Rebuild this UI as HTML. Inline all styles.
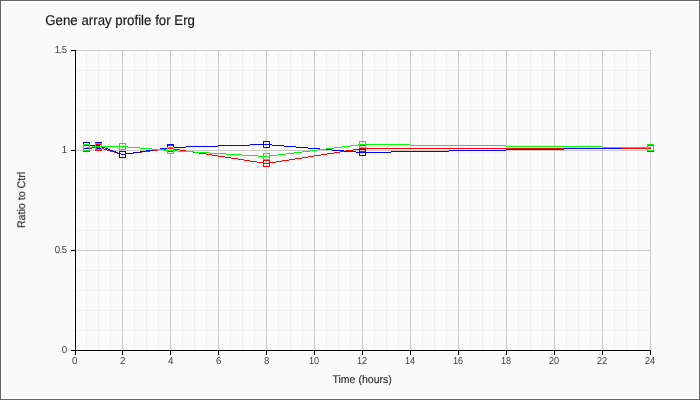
<!DOCTYPE html>
<html><head><meta charset="utf-8"><title>Gene array profile for Erg</title>
<style>
html,body{margin:0;padding:0;background:#FAFAFA;overflow:hidden}
svg{display:block}
text{font-family:"Liberation Sans",Arial,sans-serif;fill:#262626;text-rendering:geometricPrecision}
</style></head><body>
<svg width="700" height="400" viewBox="0 0 700 400">
<g shape-rendering="crispEdges">
<rect x="0" y="0" width="700" height="400" fill="#666666"/>
<rect x="1" y="1" width="698" height="398" fill="#FFFFFF"/>
<rect x="2" y="2" width="696" height="396" fill="#FAFAFA"/>
<rect x="86" y="50" width="1" height="300" fill="#F0F0F0"/>
<rect x="98" y="50" width="1" height="300" fill="#F0F0F0"/>
<rect x="110" y="50" width="1" height="300" fill="#F0F0F0"/>
<rect x="134" y="50" width="1" height="300" fill="#F0F0F0"/>
<rect x="146" y="50" width="1" height="300" fill="#F0F0F0"/>
<rect x="158" y="50" width="1" height="300" fill="#F0F0F0"/>
<rect x="182" y="50" width="1" height="300" fill="#F0F0F0"/>
<rect x="194" y="50" width="1" height="300" fill="#F0F0F0"/>
<rect x="206" y="50" width="1" height="300" fill="#F0F0F0"/>
<rect x="230" y="50" width="1" height="300" fill="#F0F0F0"/>
<rect x="242" y="50" width="1" height="300" fill="#F0F0F0"/>
<rect x="254" y="50" width="1" height="300" fill="#F0F0F0"/>
<rect x="278" y="50" width="1" height="300" fill="#F0F0F0"/>
<rect x="290" y="50" width="1" height="300" fill="#F0F0F0"/>
<rect x="302" y="50" width="1" height="300" fill="#F0F0F0"/>
<rect x="326" y="50" width="1" height="300" fill="#F0F0F0"/>
<rect x="338" y="50" width="1" height="300" fill="#F0F0F0"/>
<rect x="350" y="50" width="1" height="300" fill="#F0F0F0"/>
<rect x="374" y="50" width="1" height="300" fill="#F0F0F0"/>
<rect x="386" y="50" width="1" height="300" fill="#F0F0F0"/>
<rect x="398" y="50" width="1" height="300" fill="#F0F0F0"/>
<rect x="422" y="50" width="1" height="300" fill="#F0F0F0"/>
<rect x="434" y="50" width="1" height="300" fill="#F0F0F0"/>
<rect x="446" y="50" width="1" height="300" fill="#F0F0F0"/>
<rect x="470" y="50" width="1" height="300" fill="#F0F0F0"/>
<rect x="482" y="50" width="1" height="300" fill="#F0F0F0"/>
<rect x="494" y="50" width="1" height="300" fill="#F0F0F0"/>
<rect x="518" y="50" width="1" height="300" fill="#F0F0F0"/>
<rect x="530" y="50" width="1" height="300" fill="#F0F0F0"/>
<rect x="542" y="50" width="1" height="300" fill="#F0F0F0"/>
<rect x="566" y="50" width="1" height="300" fill="#F0F0F0"/>
<rect x="578" y="50" width="1" height="300" fill="#F0F0F0"/>
<rect x="590" y="50" width="1" height="300" fill="#F0F0F0"/>
<rect x="614" y="50" width="1" height="300" fill="#F0F0F0"/>
<rect x="626" y="50" width="1" height="300" fill="#F0F0F0"/>
<rect x="638" y="50" width="1" height="300" fill="#F0F0F0"/>
<rect x="76" y="330" width="575" height="1" fill="#F0F0F0"/>
<rect x="76" y="310" width="575" height="1" fill="#F0F0F0"/>
<rect x="76" y="290" width="575" height="1" fill="#F0F0F0"/>
<rect x="76" y="270" width="575" height="1" fill="#F0F0F0"/>
<rect x="76" y="230" width="575" height="1" fill="#F0F0F0"/>
<rect x="76" y="210" width="575" height="1" fill="#F0F0F0"/>
<rect x="76" y="190" width="575" height="1" fill="#F0F0F0"/>
<rect x="76" y="170" width="575" height="1" fill="#F0F0F0"/>
<rect x="76" y="130" width="575" height="1" fill="#F0F0F0"/>
<rect x="76" y="110" width="575" height="1" fill="#F0F0F0"/>
<rect x="76" y="90" width="575" height="1" fill="#F0F0F0"/>
<rect x="76" y="70" width="575" height="1" fill="#F0F0F0"/>
<rect x="122" y="50" width="1" height="300" fill="#C8C8C8"/>
<rect x="170" y="50" width="1" height="300" fill="#C8C8C8"/>
<rect x="218" y="50" width="1" height="300" fill="#C8C8C8"/>
<rect x="266" y="50" width="1" height="300" fill="#C8C8C8"/>
<rect x="314" y="50" width="1" height="300" fill="#C8C8C8"/>
<rect x="362" y="50" width="1" height="300" fill="#C8C8C8"/>
<rect x="410" y="50" width="1" height="300" fill="#C8C8C8"/>
<rect x="458" y="50" width="1" height="300" fill="#C8C8C8"/>
<rect x="506" y="50" width="1" height="300" fill="#C8C8C8"/>
<rect x="554" y="50" width="1" height="300" fill="#C8C8C8"/>
<rect x="602" y="50" width="1" height="300" fill="#C8C8C8"/>
<rect x="650" y="50" width="1" height="300" fill="#C8C8C8"/>
<rect x="76" y="250" width="575" height="1" fill="#C8C8C8"/>
<rect x="76" y="150" width="575" height="1" fill="#C8C8C8"/>
<rect x="76" y="50" width="575" height="1" fill="#C8C8C8"/>
<rect x="75" y="50" width="1" height="305" fill="#000"/>
<rect x="71" y="350" width="580" height="1" fill="#000"/>
<rect x="71" y="250" width="4" height="1" fill="#000"/>
<rect x="71" y="150" width="4" height="1" fill="#000"/>
<rect x="71" y="50" width="4" height="1" fill="#000"/>
<rect x="122" y="351" width="1" height="4" fill="#000"/>
<rect x="170" y="351" width="1" height="4" fill="#000"/>
<rect x="218" y="351" width="1" height="4" fill="#000"/>
<rect x="266" y="351" width="1" height="4" fill="#000"/>
<rect x="314" y="351" width="1" height="4" fill="#000"/>
<rect x="362" y="351" width="1" height="4" fill="#000"/>
<rect x="410" y="351" width="1" height="4" fill="#000"/>
<rect x="458" y="351" width="1" height="4" fill="#000"/>
<rect x="506" y="351" width="1" height="4" fill="#000"/>
<rect x="554" y="351" width="1" height="4" fill="#000"/>
<rect x="602" y="351" width="1" height="4" fill="#000"/>
<rect x="650" y="351" width="1" height="4" fill="#000"/>
<rect x="86" y="148" width="6" height="1" fill="#FF0000"/>
<rect x="92" y="147" width="7" height="1" fill="#FF0000"/>
<rect x="98" y="147" width="2" height="1" fill="#FF0000"/>
<rect x="100" y="148" width="4" height="1" fill="#FF0000"/>
<rect x="104" y="149" width="3" height="1" fill="#FF0000"/>
<rect x="107" y="150" width="3" height="1" fill="#FF0000"/>
<rect x="110" y="151" width="4" height="1" fill="#FF0000"/>
<rect x="114" y="152" width="3" height="1" fill="#FF0000"/>
<rect x="117" y="153" width="4" height="1" fill="#FF0000"/>
<rect x="121" y="154" width="2" height="1" fill="#FF0000"/>
<rect x="122" y="154" width="4" height="1" fill="#FF0000"/>
<rect x="126" y="153" width="8" height="1" fill="#FF0000"/>
<rect x="134" y="152" width="8" height="1" fill="#FF0000"/>
<rect x="142" y="151" width="8" height="1" fill="#FF0000"/>
<rect x="150" y="150" width="8" height="1" fill="#FF0000"/>
<rect x="158" y="149" width="8" height="1" fill="#FF0000"/>
<rect x="166" y="148" width="5" height="1" fill="#FF0000"/>
<rect x="170" y="148" width="4" height="1" fill="#FF0000"/>
<rect x="174" y="149" width="6" height="1" fill="#FF0000"/>
<rect x="180" y="150" width="6" height="1" fill="#FF0000"/>
<rect x="186" y="151" width="7" height="1" fill="#FF0000"/>
<rect x="193" y="152" width="6" height="1" fill="#FF0000"/>
<rect x="199" y="153" width="7" height="1" fill="#FF0000"/>
<rect x="206" y="154" width="6" height="1" fill="#FF0000"/>
<rect x="212" y="155" width="6" height="1" fill="#FF0000"/>
<rect x="218" y="156" width="7" height="1" fill="#FF0000"/>
<rect x="225" y="157" width="6" height="1" fill="#FF0000"/>
<rect x="231" y="158" width="7" height="1" fill="#FF0000"/>
<rect x="238" y="159" width="6" height="1" fill="#FF0000"/>
<rect x="244" y="160" width="6" height="1" fill="#FF0000"/>
<rect x="250" y="161" width="7" height="1" fill="#FF0000"/>
<rect x="257" y="162" width="6" height="1" fill="#FF0000"/>
<rect x="263" y="163" width="4" height="1" fill="#FF0000"/>
<rect x="266" y="163" width="4" height="1" fill="#FF0000"/>
<rect x="270" y="162" width="6" height="1" fill="#FF0000"/>
<rect x="276" y="161" width="6" height="1" fill="#FF0000"/>
<rect x="282" y="160" width="7" height="1" fill="#FF0000"/>
<rect x="289" y="159" width="6" height="1" fill="#FF0000"/>
<rect x="295" y="158" width="7" height="1" fill="#FF0000"/>
<rect x="302" y="157" width="6" height="1" fill="#FF0000"/>
<rect x="308" y="156" width="6" height="1" fill="#FF0000"/>
<rect x="314" y="155" width="7" height="1" fill="#FF0000"/>
<rect x="321" y="154" width="6" height="1" fill="#FF0000"/>
<rect x="327" y="153" width="7" height="1" fill="#FF0000"/>
<rect x="334" y="152" width="6" height="1" fill="#FF0000"/>
<rect x="340" y="151" width="6" height="1" fill="#FF0000"/>
<rect x="346" y="150" width="7" height="1" fill="#FF0000"/>
<rect x="353" y="149" width="6" height="1" fill="#FF0000"/>
<rect x="359" y="148" width="4" height="1" fill="#FF0000"/>
<rect x="362" y="148" width="289" height="1" fill="#FF0000"/>
<rect x="83" y="145" width="7" height="1" fill="#FF0000"/>
<rect x="83" y="151" width="7" height="1" fill="#FF0000"/>
<rect x="83" y="146" width="1" height="5" fill="#FF0000"/>
<rect x="89" y="146" width="1" height="5" fill="#FF0000"/>
<rect x="95" y="144" width="7" height="1" fill="#FF0000"/>
<rect x="95" y="150" width="7" height="1" fill="#FF0000"/>
<rect x="95" y="145" width="1" height="5" fill="#FF0000"/>
<rect x="101" y="145" width="1" height="5" fill="#FF0000"/>
<rect x="119" y="151" width="7" height="1" fill="#FF0000"/>
<rect x="119" y="157" width="7" height="1" fill="#FF0000"/>
<rect x="119" y="152" width="1" height="5" fill="#FF0000"/>
<rect x="125" y="152" width="1" height="5" fill="#FF0000"/>
<rect x="167" y="145" width="7" height="1" fill="#FF0000"/>
<rect x="167" y="151" width="7" height="1" fill="#FF0000"/>
<rect x="167" y="146" width="1" height="5" fill="#FF0000"/>
<rect x="173" y="146" width="1" height="5" fill="#FF0000"/>
<rect x="263" y="160" width="7" height="1" fill="#FF0000"/>
<rect x="263" y="166" width="7" height="1" fill="#FF0000"/>
<rect x="263" y="161" width="1" height="5" fill="#FF0000"/>
<rect x="269" y="161" width="1" height="5" fill="#FF0000"/>
<rect x="359" y="145" width="7" height="1" fill="#FF0000"/>
<rect x="359" y="151" width="7" height="1" fill="#FF0000"/>
<rect x="359" y="146" width="1" height="5" fill="#FF0000"/>
<rect x="365" y="146" width="1" height="5" fill="#FF0000"/>
<rect x="647" y="145" width="7" height="1" fill="#FF0000"/>
<rect x="647" y="151" width="7" height="1" fill="#FF0000"/>
<rect x="647" y="146" width="1" height="5" fill="#FF0000"/>
<rect x="653" y="146" width="1" height="5" fill="#FF0000"/>
<rect x="86" y="145" width="13" height="1" fill="#0000FF"/>
<rect x="98" y="145" width="2" height="1" fill="#0000FF"/>
<rect x="100" y="146" width="2" height="1" fill="#0000FF"/>
<rect x="102" y="147" width="3" height="1" fill="#0000FF"/>
<rect x="105" y="148" width="3" height="1" fill="#0000FF"/>
<rect x="108" y="149" width="2" height="1" fill="#0000FF"/>
<rect x="110" y="150" width="3" height="1" fill="#0000FF"/>
<rect x="113" y="151" width="3" height="1" fill="#0000FF"/>
<rect x="116" y="152" width="2" height="1" fill="#0000FF"/>
<rect x="118" y="153" width="3" height="1" fill="#0000FF"/>
<rect x="121" y="154" width="2" height="1" fill="#0000FF"/>
<rect x="122" y="154" width="4" height="1" fill="#0000FF"/>
<rect x="126" y="153" width="7" height="1" fill="#0000FF"/>
<rect x="133" y="152" width="7" height="1" fill="#0000FF"/>
<rect x="140" y="151" width="6" height="1" fill="#0000FF"/>
<rect x="146" y="150" width="7" height="1" fill="#0000FF"/>
<rect x="153" y="149" width="7" height="1" fill="#0000FF"/>
<rect x="160" y="148" width="7" height="1" fill="#0000FF"/>
<rect x="167" y="147" width="4" height="1" fill="#0000FF"/>
<rect x="170" y="147" width="16" height="1" fill="#0000FF"/>
<rect x="186" y="146" width="32" height="1" fill="#0000FF"/>
<rect x="218" y="145" width="32" height="1" fill="#0000FF"/>
<rect x="250" y="144" width="17" height="1" fill="#0000FF"/>
<rect x="266" y="144" width="6" height="1" fill="#0000FF"/>
<rect x="272" y="145" width="12" height="1" fill="#0000FF"/>
<rect x="284" y="146" width="12" height="1" fill="#0000FF"/>
<rect x="296" y="147" width="12" height="1" fill="#0000FF"/>
<rect x="308" y="148" width="12" height="1" fill="#0000FF"/>
<rect x="320" y="149" width="12" height="1" fill="#0000FF"/>
<rect x="332" y="150" width="12" height="1" fill="#0000FF"/>
<rect x="344" y="151" width="12" height="1" fill="#0000FF"/>
<rect x="356" y="152" width="7" height="1" fill="#0000FF"/>
<rect x="362" y="152" width="29" height="1" fill="#0000FF"/>
<rect x="391" y="151" width="58" height="1" fill="#0000FF"/>
<rect x="449" y="150" width="57" height="1" fill="#0000FF"/>
<rect x="506" y="149" width="58" height="1" fill="#0000FF"/>
<rect x="564" y="148" width="58" height="1" fill="#0000FF"/>
<rect x="622" y="147" width="29" height="1" fill="#0000FF"/>
<rect x="83" y="142" width="7" height="1" fill="#0000FF"/>
<rect x="83" y="148" width="7" height="1" fill="#0000FF"/>
<rect x="83" y="143" width="1" height="5" fill="#0000FF"/>
<rect x="89" y="143" width="1" height="5" fill="#0000FF"/>
<rect x="95" y="142" width="7" height="1" fill="#0000FF"/>
<rect x="95" y="148" width="7" height="1" fill="#0000FF"/>
<rect x="95" y="143" width="1" height="5" fill="#0000FF"/>
<rect x="101" y="143" width="1" height="5" fill="#0000FF"/>
<rect x="119" y="151" width="7" height="1" fill="#0000FF"/>
<rect x="119" y="157" width="7" height="1" fill="#0000FF"/>
<rect x="119" y="152" width="1" height="5" fill="#0000FF"/>
<rect x="125" y="152" width="1" height="5" fill="#0000FF"/>
<rect x="167" y="144" width="7" height="1" fill="#0000FF"/>
<rect x="167" y="150" width="7" height="1" fill="#0000FF"/>
<rect x="167" y="145" width="1" height="5" fill="#0000FF"/>
<rect x="173" y="145" width="1" height="5" fill="#0000FF"/>
<rect x="263" y="141" width="7" height="1" fill="#0000FF"/>
<rect x="263" y="147" width="7" height="1" fill="#0000FF"/>
<rect x="263" y="142" width="1" height="5" fill="#0000FF"/>
<rect x="269" y="142" width="1" height="5" fill="#0000FF"/>
<rect x="359" y="149" width="7" height="1" fill="#0000FF"/>
<rect x="359" y="155" width="7" height="1" fill="#0000FF"/>
<rect x="359" y="150" width="1" height="5" fill="#0000FF"/>
<rect x="365" y="150" width="1" height="5" fill="#0000FF"/>
<rect x="647" y="144" width="7" height="1" fill="#0000FF"/>
<rect x="647" y="150" width="7" height="1" fill="#0000FF"/>
<rect x="647" y="145" width="1" height="5" fill="#0000FF"/>
<rect x="653" y="145" width="1" height="5" fill="#0000FF"/>
<rect x="86" y="147" width="6" height="1" fill="#00FF00"/>
<rect x="92" y="146" width="7" height="1" fill="#00FF00"/>
<rect x="98" y="146" width="25" height="1" fill="#00FF00"/>
<rect x="122" y="146" width="6" height="1" fill="#00FF00"/>
<rect x="128" y="147" width="12" height="1" fill="#00FF00"/>
<rect x="140" y="148" width="12" height="1" fill="#00FF00"/>
<rect x="152" y="149" width="12" height="1" fill="#00FF00"/>
<rect x="164" y="150" width="7" height="1" fill="#00FF00"/>
<rect x="170" y="150" width="8" height="1" fill="#00FF00"/>
<rect x="178" y="151" width="16" height="1" fill="#00FF00"/>
<rect x="194" y="152" width="16" height="1" fill="#00FF00"/>
<rect x="210" y="153" width="16" height="1" fill="#00FF00"/>
<rect x="226" y="154" width="16" height="1" fill="#00FF00"/>
<rect x="242" y="155" width="16" height="1" fill="#00FF00"/>
<rect x="258" y="156" width="9" height="1" fill="#00FF00"/>
<rect x="266" y="156" width="4" height="1" fill="#00FF00"/>
<rect x="270" y="155" width="8" height="1" fill="#00FF00"/>
<rect x="278" y="154" width="8" height="1" fill="#00FF00"/>
<rect x="286" y="153" width="8" height="1" fill="#00FF00"/>
<rect x="294" y="152" width="8" height="1" fill="#00FF00"/>
<rect x="302" y="151" width="8" height="1" fill="#00FF00"/>
<rect x="310" y="150" width="8" height="1" fill="#00FF00"/>
<rect x="318" y="149" width="8" height="1" fill="#00FF00"/>
<rect x="326" y="148" width="8" height="1" fill="#00FF00"/>
<rect x="334" y="147" width="8" height="1" fill="#00FF00"/>
<rect x="342" y="146" width="8" height="1" fill="#00FF00"/>
<rect x="350" y="145" width="8" height="1" fill="#00FF00"/>
<rect x="358" y="144" width="5" height="1" fill="#00FF00"/>
<rect x="362" y="144" width="48" height="1" fill="#00FF00"/>
<rect x="410" y="145" width="96" height="1" fill="#00FF00"/>
<rect x="506" y="146" width="96" height="1" fill="#00FF00"/>
<rect x="602" y="147" width="49" height="1" fill="#00FF00"/>
<rect x="83" y="144" width="7" height="1" fill="#00FF00"/>
<rect x="83" y="150" width="7" height="1" fill="#00FF00"/>
<rect x="83" y="145" width="1" height="5" fill="#00FF00"/>
<rect x="89" y="145" width="1" height="5" fill="#00FF00"/>
<rect x="95" y="143" width="7" height="1" fill="#00FF00"/>
<rect x="95" y="149" width="7" height="1" fill="#00FF00"/>
<rect x="95" y="144" width="1" height="5" fill="#00FF00"/>
<rect x="101" y="144" width="1" height="5" fill="#00FF00"/>
<rect x="119" y="143" width="7" height="1" fill="#00FF00"/>
<rect x="119" y="149" width="7" height="1" fill="#00FF00"/>
<rect x="119" y="144" width="1" height="5" fill="#00FF00"/>
<rect x="125" y="144" width="1" height="5" fill="#00FF00"/>
<rect x="167" y="147" width="7" height="1" fill="#00FF00"/>
<rect x="167" y="153" width="7" height="1" fill="#00FF00"/>
<rect x="167" y="148" width="1" height="5" fill="#00FF00"/>
<rect x="173" y="148" width="1" height="5" fill="#00FF00"/>
<rect x="263" y="153" width="7" height="1" fill="#00FF00"/>
<rect x="263" y="159" width="7" height="1" fill="#00FF00"/>
<rect x="263" y="154" width="1" height="5" fill="#00FF00"/>
<rect x="269" y="154" width="1" height="5" fill="#00FF00"/>
<rect x="359" y="141" width="7" height="1" fill="#00FF00"/>
<rect x="359" y="147" width="7" height="1" fill="#00FF00"/>
<rect x="359" y="142" width="1" height="5" fill="#00FF00"/>
<rect x="365" y="142" width="1" height="5" fill="#00FF00"/>
<rect x="647" y="144" width="7" height="1" fill="#00FF00"/>
<rect x="647" y="150" width="7" height="1" fill="#00FF00"/>
<rect x="647" y="145" width="1" height="5" fill="#00FF00"/>
<rect x="653" y="145" width="1" height="5" fill="#00FF00"/>
</g>
<g style="opacity:0.999">
<text transform="translate(45.3,24.9) scale(0.995,1.06)" font-size="13.33" text-anchor="start" style="fill:#151515;stroke:#151515;stroke-width:0.15">Gene array profile for Erg</text>
<text transform="translate(67.1,353.1) scale(1.03,1.08)" font-size="9.33" text-anchor="end" style="fill:#424242">0</text>
<text transform="translate(66.6,253.1) scale(1.03,1.08)" font-size="9.33" text-anchor="end" style="fill:#424242;letter-spacing:-0.5px">0.5</text>
<text transform="translate(67.1,153.1) scale(1.03,1.08)" font-size="9.33" text-anchor="end" style="fill:#424242">1</text>
<text transform="translate(66.6,53.1) scale(1.03,1.08)" font-size="9.33" text-anchor="end" style="fill:#424242;letter-spacing:-0.5px">1.5</text>
<text transform="translate(74.7,364.1) scale(1.04,1.08)" font-size="9.33" text-anchor="middle" style="fill:#3e3e3e">0</text>
<text transform="translate(122.7,364.1) scale(1.04,1.08)" font-size="9.33" text-anchor="middle" style="fill:#3e3e3e">2</text>
<text transform="translate(170.7,364.1) scale(1.04,1.08)" font-size="9.33" text-anchor="middle" style="fill:#3e3e3e">4</text>
<text transform="translate(218.7,364.1) scale(1.04,1.08)" font-size="9.33" text-anchor="middle" style="fill:#3e3e3e">6</text>
<text transform="translate(266.7,364.1) scale(1.04,1.08)" font-size="9.33" text-anchor="middle" style="fill:#3e3e3e">8</text>
<text transform="translate(314.1,364.1) scale(0.98,1.08)" font-size="9.33" text-anchor="middle" style="fill:#3e3e3e">10</text>
<text transform="translate(362.1,364.1) scale(0.98,1.08)" font-size="9.33" text-anchor="middle" style="fill:#3e3e3e">12</text>
<text transform="translate(410.1,364.1) scale(0.98,1.08)" font-size="9.33" text-anchor="middle" style="fill:#3e3e3e">14</text>
<text transform="translate(458.1,364.1) scale(0.98,1.08)" font-size="9.33" text-anchor="middle" style="fill:#3e3e3e">16</text>
<text transform="translate(506.1,364.1) scale(0.98,1.08)" font-size="9.33" text-anchor="middle" style="fill:#3e3e3e">18</text>
<text transform="translate(554.1,364.1) scale(0.98,1.08)" font-size="9.33" text-anchor="middle" style="fill:#3e3e3e">20</text>
<text transform="translate(602.1,364.1) scale(0.98,1.08)" font-size="9.33" text-anchor="middle" style="fill:#3e3e3e">22</text>
<text transform="translate(650.1,364.1) scale(0.98,1.08)" font-size="9.33" text-anchor="middle" style="fill:#3e3e3e">24</text>
<text transform="translate(362.1,382.8) scale(0.99,1.04)" font-size="10.67" text-anchor="middle" style="stroke:#262626;stroke-width:0.1">Time (hours)</text>
<text transform="translate(24.6,199.9) rotate(-90) scale(1,1.05)" font-size="10.67" text-anchor="middle" style="stroke:#262626;stroke-width:0.12">Ratio to Ctrl</text>
</g>
</svg>
</body></html>
